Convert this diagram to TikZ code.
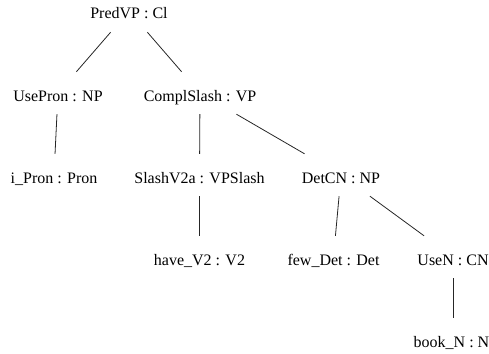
\documentclass[tikz,border=0pt]{standalone}
\usepackage{fontspec}
\setmainfont{Liberation Serif}
\usepackage{tikz}

\begin{document}
\begin{tikzpicture}[x=1pt,y=-1pt]
\tikzset{tnode/.style = {shape=rectangle,anchor=base,inner xsep=2pt,inner ysep=12pt,
  text height=17pt,text depth=1pt,font=\fontsize{16}{19}\selectfont}}
\tikzset{edge/.style = {line width=0.8pt,black!85}}
\useasboundingbox (0,0) rectangle (489,353);
\node[tnode] (predvp) at (129,19) {PredVP : Cl};
\node[tnode] (usepron) at (58,101) {UsePron : NP};
\node[tnode] (complslash) at (200,101) {ComplSlash : VP};
\node[tnode] (ipron) at (54,183) {i\_Pron : Pron};
\node[tnode] (slashvtwo) at (199.5,183) {SlashV2a : VPSlash};
\node[tnode] (detcn) at (341,183) {DetCN : NP};
\node[tnode] (havevtwo) at (199.5,265) {have\_V2 : V2};
\node[tnode] (fewdet) at (333.5,265) {few\_Det : Det};
\node[tnode] (usen) at (453,265) {UseN : CN};
\node[tnode] (bookn) at (451.5,347) {book\_N : N};

\draw[edge] (predvp) to (usepron);
\draw[edge] (predvp) to (complslash);
\draw[edge] (usepron) to (ipron);
\draw[edge] (complslash) to (slashvtwo);
\draw[edge] (complslash) to (detcn);
\draw[edge] (slashvtwo) to (havevtwo);
\draw[edge] (detcn) to (fewdet);
\draw[edge] (detcn) to (usen);
\draw[edge] (usen.south) to (usen.south |- bookn.north);
\end{tikzpicture}
\end{document}
